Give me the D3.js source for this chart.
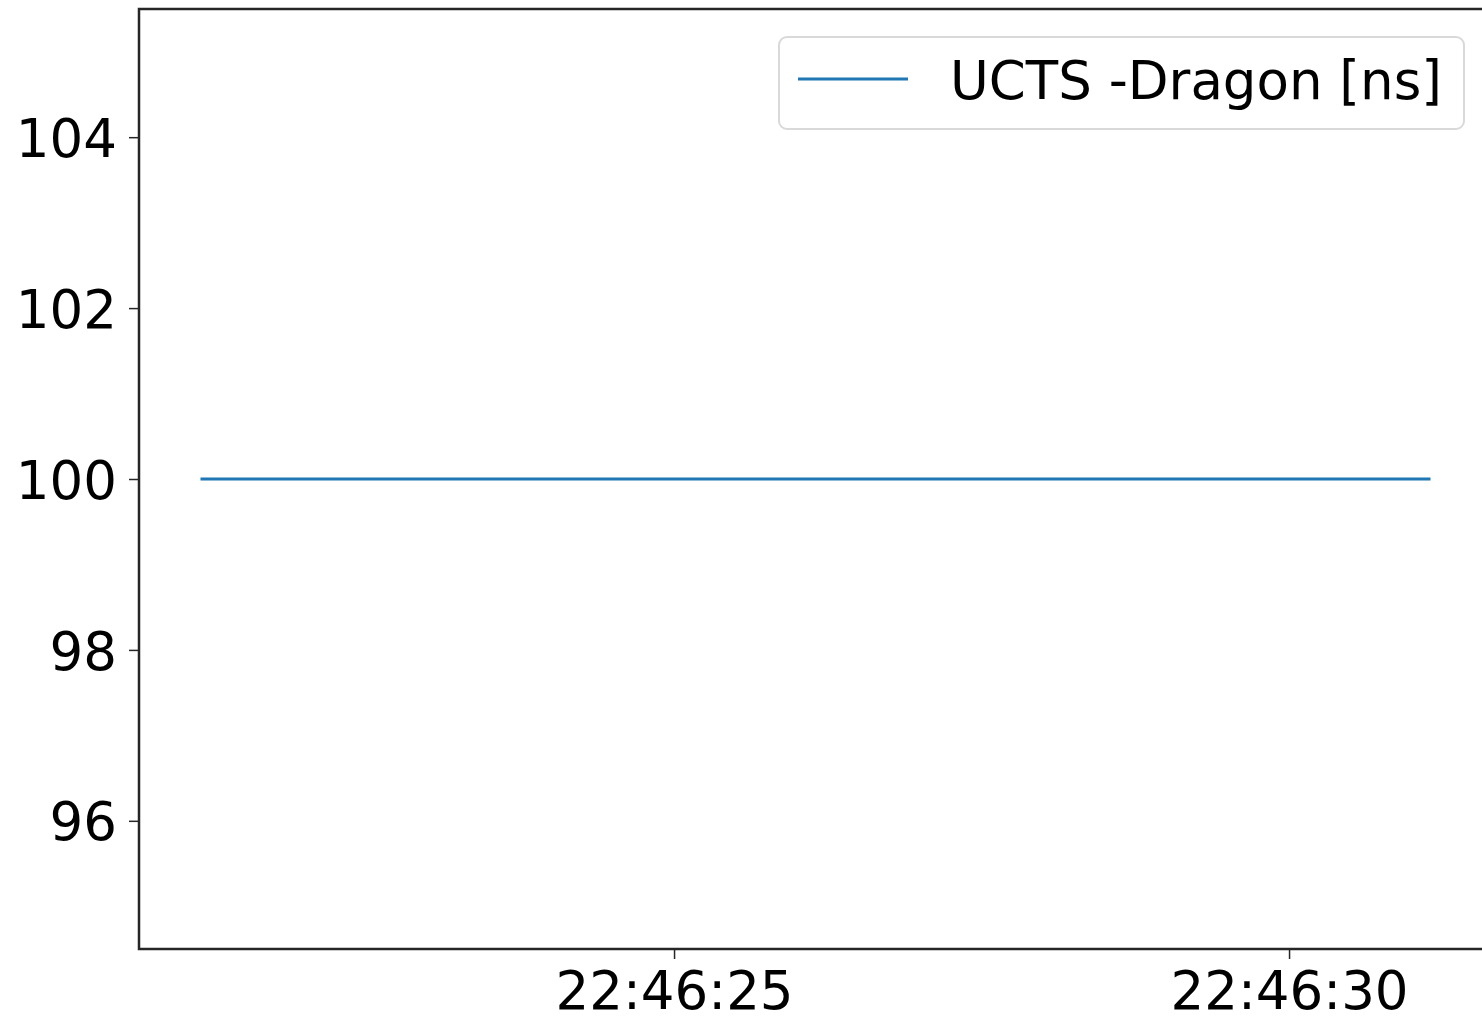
<!DOCTYPE html>
<html lang="en">
<head>
<meta charset="utf-8">
<title>UCTS - Dragon</title>
<script src="https://d3js.org/d3.v7.min.js"></script>
<style>
  html, body { margin: 0; padding: 0; background: #fff; overflow: hidden; }
  svg { display: block; font-family: "DejaVu Sans", sans-serif; }
  .axis path, .axis line { stroke: #262626; }
  .axis text { fill: #000; font-size: 53px; font-family: "DejaVu Sans", sans-serif; }
</style>
</head>
<body>
<script>
// data: a flat line at 100 ns over ~10 s
var times = ["22:46:21.15", "22:46:22.15", "22:46:23.15", "22:46:24.15", "22:46:25.15",
             "22:46:26.15", "22:46:27.15", "22:46:28.15", "22:46:29.15", "22:46:30.15", "22:46:31.15"];
var values = [100, 100, 100, 100, 100, 100, 100, 100, 100, 100, 100];
var yTicks = [96, 98, 100, 102, 104];
var seriesName = "UCTS -Dragon [ns]";

var W = 1482, H = 1017;
var margin = {top: 9, left: 139};
var plotW = 1492 - margin.left, plotH = 949 - margin.top;

var parse = function(s) {
  var p = s.split(":");
  var sec = +p[2];
  return new Date(2019, 0, 1, +p[0], +p[1], Math.floor(sec), Math.round((sec % 1) * 1000));
};
var data = times.map(function(t, i) { return {t: parse(t), v: values[i]}; });

var svg = d3.select("body").append("svg")
  .attr("width", W).attr("height", H);
var g = svg.append("g").attr("transform", "translate(" + margin.left + "," + margin.top + ")");

// matplotlib style 5% margins
var ext = d3.extent(data, function(d) { return d.t; });
var pad = (ext[1] - ext[0]) * 0.05;
var x = d3.scaleTime()
  .domain([new Date(+ext[0] - pad), new Date(+ext[1] + pad)])
  .range([0, plotW]);
var y = d3.scaleLinear().domain([94.5, 105.5]).range([plotH, 0]);

var line = d3.line()
  .x(function(d) { return x(d.t); })
  .y(function(d) { return y(d.v); });

g.append("path").datum(data)
  .attr("d", line)
  .attr("fill", "none")
  .attr("stroke", "#1f77b4")
  .attr("stroke-width", 3);

// axes
var xAxis = g.append("g").attr("class", "axis")
  .attr("transform", "translate(0," + plotH + ")")
  .call(d3.axisBottom(x).ticks(d3.timeSecond.every(5)).tickFormat(d3.timeFormat("%H:%M:%S"))
        .tickSize(10).tickPadding(12).tickSizeOuter(0));
xAxis.select(".domain").remove();
xAxis.selectAll(".tick line").attr("stroke-width", 1.5);

var yAxis = g.append("g").attr("class", "axis")
  .call(d3.axisLeft(y).tickValues(yTicks).tickSize(10).tickPadding(12).tickSizeOuter(0));
yAxis.select(".domain").remove();
yAxis.selectAll(".tick line").attr("stroke-width", 1.5);
yAxis.selectAll(".tick text").attr("dy", "0.36em");

// spines
g.append("rect")
  .attr("x", 0).attr("y", 0).attr("width", plotW).attr("height", plotH)
  .attr("fill", "none").attr("stroke", "#262626").attr("stroke-width", 2.5);

// legend
var lg = svg.append("g").attr("transform", "translate(779,37)");
lg.append("rect")
  .attr("width", 685).attr("height", 92).attr("rx", 8)
  .attr("fill", "#fff").attr("fill-opacity", 0.8)
  .attr("stroke", "#d9d9d9").attr("stroke-width", 2);
lg.append("line")
  .attr("x1", 19).attr("x2", 129).attr("y1", 42).attr("y2", 42)
  .attr("stroke", "#1f77b4").attr("stroke-width", 3);
lg.append("text")
  .attr("x", 171).attr("y", 62)
  .attr("font-size", 53).attr("fill", "#000")
  .text(seriesName);
</script>
</body>
</html>
